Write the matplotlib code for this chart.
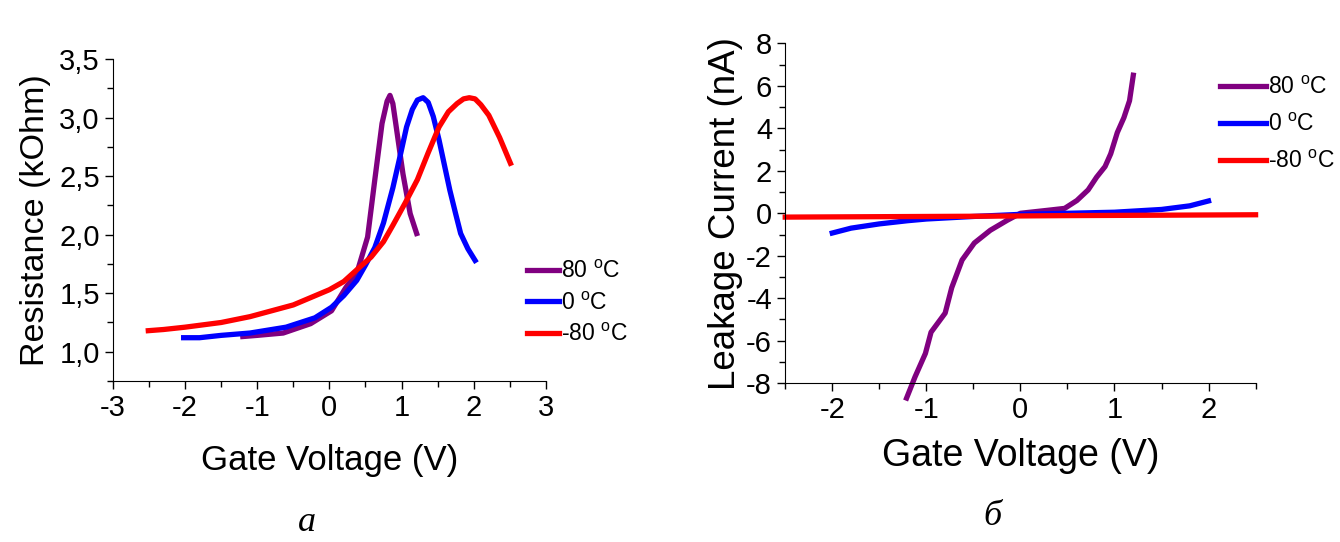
import numpy as np
import matplotlib
matplotlib.use("Agg")
from matplotlib import pyplot as plt
from matplotlib.ticker import MultipleLocator, FuncFormatter

plt.rcParams['font.family'] = ['Liberation Sans', 'DejaVu Sans']
plt.rcParams['mathtext.fontset'] = 'custom'
plt.rcParams['mathtext.rm'] = 'Liberation Sans'
plt.rcParams['axes.unicode_minus'] = False

labels = [r'80 $^{\rm o}$C', r'0 $^{\rm o}$C', r'-80 $^{\rm o}$C']
colors = ['#800080', '#0000ff', '#ff0000']

# panel a: resistance vs gate voltage
res_v_80 = [-1.2, -1.0, -0.64, -0.26, 0.03, 0.23, 0.38, 0.53, 0.63, 0.73, 0.80, 0.84, 0.88, 0.92, 1.02, 1.12, 1.21]
res_r_80 = [1.13, 1.14, 1.16, 1.24, 1.35, 1.55, 1.67, 1.98, 2.47, 2.95, 3.14, 3.19, 3.12, 2.95, 2.52, 2.18, 2.01]
res_v_0 = [-2.02, -1.8, -1.5, -1.1, -0.6, -0.2, 0.03, 0.2, 0.38, 0.5, 0.63, 0.75, 0.88, 0.98, 1.07, 1.15, 1.22, 1.30,
           1.37, 1.44, 1.52, 1.6, 1.67, 1.75, 1.82, 1.92, 2.02]
res_r_0 = [1.12, 1.12, 1.14, 1.16, 1.21, 1.29, 1.38, 1.48, 1.61, 1.74, 1.89, 2.10, 2.40, 2.67, 2.92, 3.07, 3.15, 3.17,
           3.13, 3.01, 2.81, 2.58, 2.38, 2.18, 2.01, 1.88, 1.78]
res_v_m80 = [-2.51, -2.3, -2.0, -1.5, -1.1, -0.5, 0.0, 0.2, 0.38, 0.58, 0.75, 0.88, 1.05, 1.22, 1.37, 1.52, 1.65, 1.77,
             1.86, 1.94, 2.02, 2.1, 2.21, 2.36, 2.51]
res_r_m80 = [1.18, 1.19, 1.21, 1.25, 1.30, 1.40, 1.53, 1.60, 1.70, 1.81, 1.94, 2.08, 2.27, 2.47, 2.70, 2.92, 3.05, 3.12,
             3.16, 3.17, 3.16, 3.11, 3.02, 2.83, 2.61]

# panel b: leakage current vs gate voltage
leak_v_80 = [-1.21, -1.12, -1.01, -0.95, -0.80, -0.73, -0.62, -0.49, -0.32, -0.14, 0.0, 0.29, 0.47,
             0.6, 0.72, 0.81, 0.90, 0.96, 1.03, 1.10, 1.16, 1.2]
leak_i_80 = [-8.7, -7.7, -6.6, -5.6, -4.7, -3.5, -2.2, -1.4, -0.8, -0.33, 0.0, 0.14, 0.23,
             0.6, 1.1, 1.7, 2.2, 2.8, 3.8, 4.5, 5.3, 6.5]
leak_v_0 = [-2.0, -1.8, -1.5, -1.2, -1.0, -0.5, 0.0, 0.5, 1.0, 1.5, 1.8, 2.0]
leak_i_0 = [-0.93, -0.7, -0.5, -0.35, -0.27, -0.15, -0.05, 0.0, 0.05, 0.18, 0.35, 0.58]
leak_v_m80 = [-2.5, -1.5, -0.5, 0.5, 1.5, 2.5]
leak_i_m80 = [-0.18, -0.16, -0.14, -0.11, -0.09, -0.07]

fig = plt.figure(figsize=(13.4, 5.42), dpi=100)
ax1 = fig.add_axes([0.0843, 0.297, 0.323, 0.594])
ax2 = fig.add_axes([0.586, 0.293, 0.351, 0.627])

lw = 3.8
ax1.plot(res_v_80, res_r_80, color=colors[0], lw=lw, label=labels[0])
ax1.plot(res_v_0, res_r_0, color=colors[1], lw=lw, label=labels[1])
ax1.plot(res_v_m80, res_r_m80, color=colors[2], lw=lw, label=labels[2])
ax2.plot(leak_v_80, leak_i_80, color=colors[0], lw=lw, label=labels[0], clip_on=False)
ax2.plot(leak_v_0, leak_i_0, color=colors[1], lw=lw, label=labels[1])
ax2.plot(leak_v_m80, leak_i_m80, color=colors[2], lw=lw, label=labels[2], clip_on=False)

ax1.set_xlim(-3, 3)
ax1.set_ylim(0.75, 3.5)
ax1.xaxis.set_major_locator(MultipleLocator(1))
ax1.xaxis.set_minor_locator(MultipleLocator(0.5))
ax1.yaxis.set_minor_locator(MultipleLocator(0.25))
ax1.set_yticks([1.0, 1.5, 2.0, 2.5, 3.0, 3.5])
ax1.yaxis.set_major_formatter(FuncFormatter(lambda v, p: ('%.1f' % v).replace('.', ',')))
ax1.set_xlabel('Gate Voltage (V)', fontsize=25, labelpad=16)
ax1.set_ylabel('Resistance (kOhm)', fontsize=24.5, labelpad=6)

ax2.set_xlim(-2.5, 2.5)
ax2.set_ylim(-8, 8)
ax2.set_xticks([-2, -1, 0, 1, 2])
ax2.xaxis.set_minor_locator(MultipleLocator(0.5))
ax2.yaxis.set_major_locator(MultipleLocator(2))
ax2.yaxis.set_minor_locator(MultipleLocator(1))
ax2.set_xlabel('Gate Voltage (V)', fontsize=27, labelpad=10)
ax2.set_ylabel('Leakage Current (nA)', fontsize=26.5, labelpad=2)

for ax in (ax1, ax2):
    ax.spines['top'].set_visible(False)
    ax.spines['right'].set_visible(False)
    ax.tick_params(which='major', length=6, width=1, labelsize=21, direction='out')
    ax.tick_params(which='minor', length=4, width=1, direction='out')

ax1.legend(loc='upper left', bbox_to_anchor=(0.935, 0.405), frameon=False, fontsize=16.5,
           handlelength=1.4, handletextpad=0.1, labelspacing=0.38, borderaxespad=0)
ax2.legend(loc='upper left', bbox_to_anchor=(0.905, 0.93), frameon=False, fontsize=16.5,
           handlelength=2.0, handletextpad=0.1, labelspacing=0.6, borderaxespad=0)

fig.text(0.229, 0.02, 'а', fontsize=26, style='italic', family='Liberation Serif',
         ha='center', va='baseline')
fig.text(0.741, 0.032, 'б', fontsize=26, style='italic', family='Liberation Serif',
         ha='center', va='baseline')

fig.savefig('out.png', dpi=100)
